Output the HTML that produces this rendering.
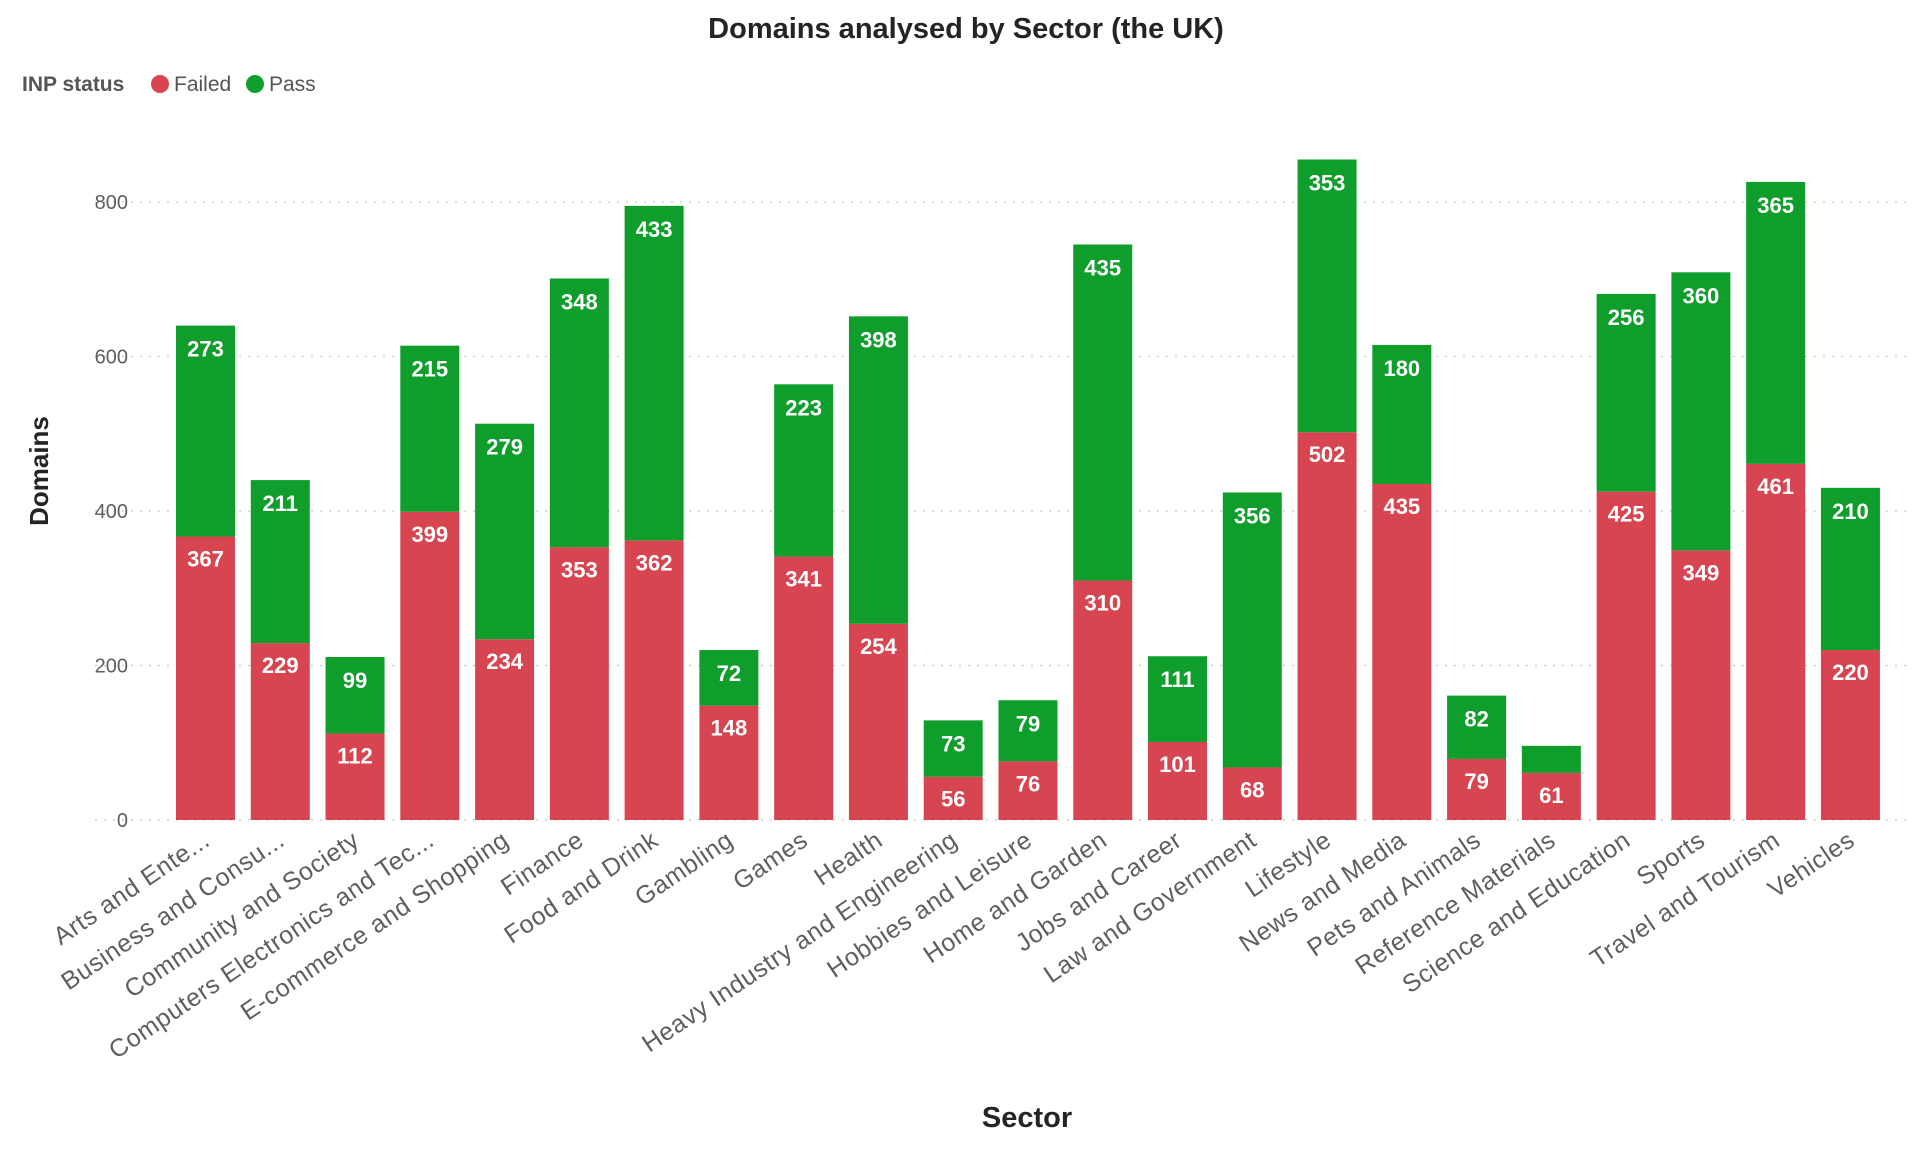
<!DOCTYPE html>
<html><head><meta charset="utf-8"><style>
html,body{margin:0;padding:0;background:#fff;}
svg{display:block;font-family:"Liberation Sans",sans-serif;}
</style></head><body>
<svg id="chart" width="1918" height="1150" viewBox="0 0 1918 1150">
<text x="966" y="38" text-anchor="middle" font-size="29" font-weight="bold" fill="#252423">Domains analysed by Sector (the UK)</text>
<g>
<text x="22" y="91" font-size="21" font-weight="bold" fill="#555">INP status</text>
<g><circle cx="160" cy="84" r="9" fill="#D64550"/><text x="174" y="91" font-size="21" fill="#555">Failed</text></g>
<g><circle cx="255" cy="84" r="9" fill="#0F9D2C"/><text x="269" y="91" font-size="21" fill="#555">Pass</text></g>
</g>
<text transform="translate(48,471) rotate(-90)" text-anchor="middle" font-size="26" font-weight="bold" fill="#252423">Domains</text>
<text x="1027" y="1127" text-anchor="middle" font-size="29" font-weight="bold" fill="#252423">Sector</text>
<g id="grid"></g><g id="bars"></g><g id="xlabels"></g>
</svg>
<script>
const categories=["Arts and Ente...","Business and Consu...","Community and Society","Computers Electronics and Tec...","E-commerce and Shopping","Finance","Food and Drink","Gambling","Games","Health","Heavy Industry and Engineering","Hobbies and Leisure","Home and Garden","Jobs and Career","Law and Government","Lifestyle","News and Media","Pets and Animals","Reference Materials","Science and Education","Sports","Travel and Tourism","Vehicles"];
const failed=[367,229,112,399,234,353,362,148,341,254,56,76,310,101,68,502,435,79,61,425,349,461,220];
const pass=[273,211,99,215,279,348,433,72,223,398,73,79,435,111,356,353,180,82,35,256,360,365,210];
const ticks=[0,200,400,600,800];
const NS="http://www.w3.org/2000/svg";
const y0=820,yTop=202,vTop=800;
function y(v){return y0-(v/vTop)*(y0-yTop);}
const x0=205.5,step=74.77,bw=59;
function x(i){return x0+i*step;}
function mk(t,a,p){const e=document.createElementNS(NS,t);for(const k in a)e.setAttribute(k,a[k]);p.appendChild(e);return e;}
const grid=document.getElementById('grid');
ticks.forEach(t=>{
  const l=mk('line',{x1:95,x2:1908,y1:y(t),y2:y(t),stroke:'#c8c8c8','stroke-dasharray':'2 7','stroke-width':1.2},grid);
  
  
  const tx=mk('text',{x:128,y:y(t)+7,'text-anchor':'end','font-size':20,fill:'#605E5C'},grid);
  tx.textContent=t;
  
  
});
const bars=document.getElementById('bars'),xl=document.getElementById('xlabels');
categories.forEach((c,i)=>{
  const cx=x(i),f=failed[i],p=pass[i];
  const r=mk('rect',{x:cx-bw/2,y:y(f),width:bw,height:y0-y(f),fill:'#D64550'},bars);
  
  
  const g=mk('rect',{x:cx-bw/2,y:y(f+p),width:bw,height:y(f)-y(f+p),fill:'#0F9D2C'},bars);
  
  
  if(y0-y(f)>30){const t=mk('text',{x:cx,y:y(f)+30,'text-anchor':'middle','font-size':22,'font-weight':'bold',fill:'#fff'},bars);t.textContent=f;
    
    }
  if(y(f)-y(f+p)>40){const t=mk('text',{x:cx,y:y(f+p)+31,'text-anchor':'middle','font-size':22,'font-weight':'bold',fill:'#fff'},bars);t.textContent=p;
    
    }
  const lt=mk('text',{transform:`translate(${cx+6},${y0+24}) rotate(-34)`,'text-anchor':'end','font-size':25,'letter-spacing':0.6,fill:'#605E5C'},xl);
  lt.textContent=c;
  
  
});
</script>
</body></html>
